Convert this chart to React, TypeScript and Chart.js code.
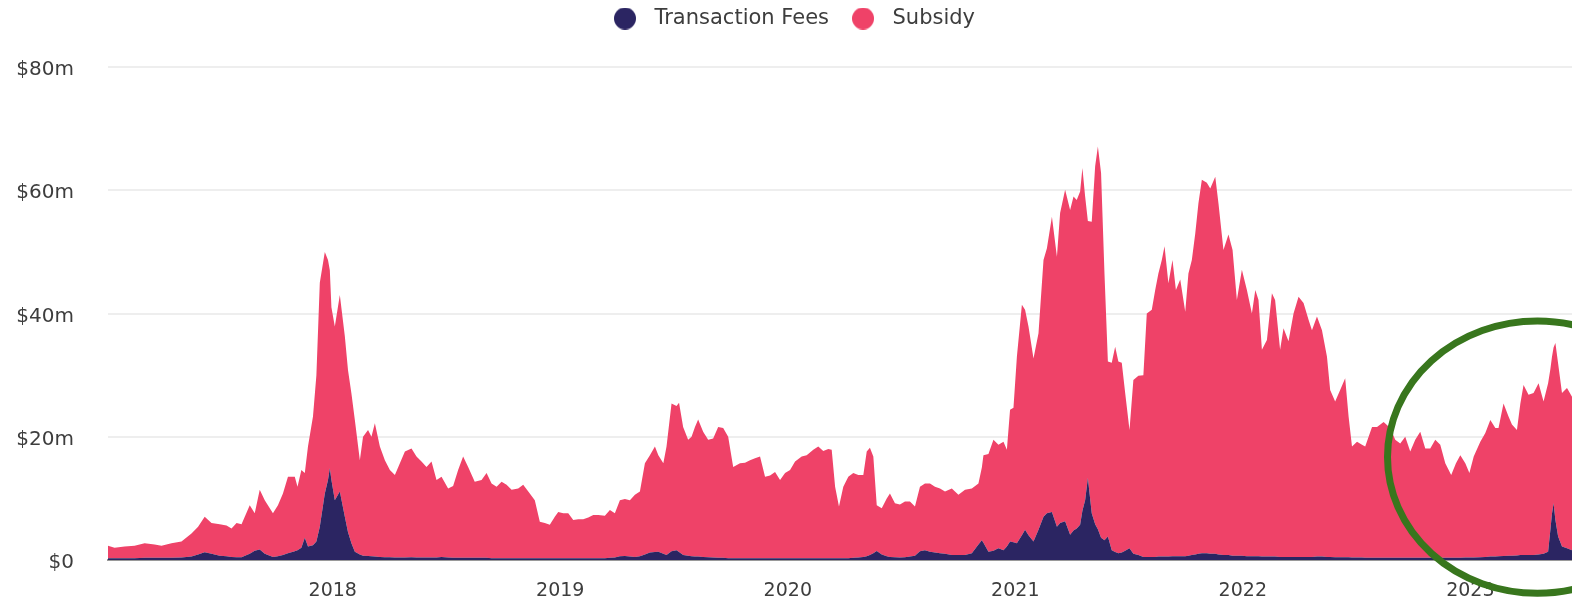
import React, { useEffect, useRef } from 'react';
import { Chart, registerables } from 'chart.js';

Chart.register(...registerables);

// Fractional-year positions of the samples
const YEARS = [
  2017.012, 2017.041, 2017.085, 2017.129, 2017.173, 2017.217, 2017.247, 2017.291, 2017.335, 2017.379,
  2017.408, 2017.437, 2017.467, 2017.503, 2017.533, 2017.555, 2017.577, 2017.599, 2017.635, 2017.657,
  2017.679, 2017.701, 2017.737, 2017.759, 2017.781, 2017.803, 2017.833, 2017.845, 2017.862, 2017.877,
  2017.891, 2017.913, 2017.928, 2017.943, 2017.965, 2017.979, 2017.987, 2017.994, 2018.009, 2018.031,
  2018.053, 2018.067, 2018.082, 2018.097, 2018.119, 2018.133, 2018.155, 2018.170, 2018.185, 2018.207,
  2018.229, 2018.251, 2018.273, 2018.295, 2018.317, 2018.346, 2018.368, 2018.390, 2018.412, 2018.434,
  2018.456, 2018.478, 2018.507, 2018.529, 2018.551, 2018.573, 2018.595, 2018.624, 2018.654, 2018.676,
  2018.698, 2018.720, 2018.742, 2018.764, 2018.786, 2018.815, 2018.837, 2018.866, 2018.888, 2018.910,
  2018.932, 2018.954, 2018.976, 2018.991, 2019.013, 2019.035, 2019.057, 2019.079, 2019.101, 2019.123,
  2019.145, 2019.167, 2019.196, 2019.218, 2019.240, 2019.262, 2019.284, 2019.306, 2019.328, 2019.350,
  2019.372, 2019.394, 2019.416, 2019.431, 2019.453, 2019.467, 2019.489, 2019.511, 2019.522, 2019.540,
  2019.562, 2019.577, 2019.592, 2019.606, 2019.628, 2019.650, 2019.672, 2019.694, 2019.716, 2019.738,
  2019.760, 2019.790, 2019.812, 2019.834, 2019.856, 2019.878, 2019.900, 2019.922, 2019.944, 2019.966,
  2019.988, 2020.010, 2020.032, 2020.061, 2020.083, 2020.112, 2020.134, 2020.156, 2020.178, 2020.193,
  2020.208, 2020.225, 2020.244, 2020.266, 2020.288, 2020.310, 2020.332, 2020.347, 2020.361, 2020.376,
  2020.391, 2020.413, 2020.435, 2020.449, 2020.471, 2020.493, 2020.515, 2020.537, 2020.559, 2020.581,
  2020.603, 2020.625, 2020.647, 2020.669, 2020.691, 2020.721, 2020.750, 2020.779, 2020.809, 2020.838,
  2020.853, 2020.860, 2020.882, 2020.904, 2020.926, 2020.948, 2020.963, 2020.977, 2020.992, 2021.007,
  2021.029, 2021.043, 2021.058, 2021.080, 2021.102, 2021.124, 2021.139, 2021.161, 2021.183, 2021.197,
  2021.219, 2021.241, 2021.256, 2021.270, 2021.285, 2021.295, 2021.307, 2021.319, 2021.336, 2021.351,
  2021.363, 2021.377, 2021.392, 2021.407, 2021.424, 2021.439, 2021.453, 2021.468, 2021.483, 2021.502,
  2021.519, 2021.541, 2021.563, 2021.578, 2021.600, 2021.615, 2021.629, 2021.644, 2021.656, 2021.673,
  2021.691, 2021.706, 2021.725, 2021.747, 2021.761, 2021.776, 2021.791, 2021.805, 2021.820, 2021.842,
  2021.857, 2021.879, 2021.893, 2021.915, 2021.937, 2021.955, 2021.974, 2021.996, 2022.018, 2022.040,
  2022.055, 2022.069, 2022.084, 2022.106, 2022.128, 2022.142, 2022.164, 2022.179, 2022.201, 2022.223,
  2022.245, 2022.267, 2022.289, 2022.304, 2022.326, 2022.348, 2022.370, 2022.384, 2022.406, 2022.428,
  2022.450, 2022.465, 2022.480, 2022.502, 2022.524, 2022.538, 2022.568, 2022.590, 2022.619, 2022.648,
  2022.670, 2022.692, 2022.714, 2022.736, 2022.758, 2022.780, 2022.802, 2022.824, 2022.846, 2022.868,
  2022.890, 2022.916, 2022.937, 2022.956, 2022.978, 2022.996, 2023.015, 2023.044, 2023.066, 2023.088,
  2023.110, 2023.124, 2023.146, 2023.168, 2023.183, 2023.205, 2023.220, 2023.234, 2023.256, 2023.278,
  2023.300, 2023.322, 2023.342, 2023.352, 2023.359, 2023.366, 2023.374, 2023.386, 2023.403, 2023.425,
  2023.447,
];

// Transaction fees, $m
const FEES = [
  0.3, 0.3, 0.3, 0.3, 0.35, 0.35, 0.35, 0.35, 0.4, 0.55,
  0.9, 1.25, 1.0, 0.7, 0.6, 0.5, 0.45, 0.45, 1.0, 1.5,
  1.7, 1.0, 0.5, 0.6, 0.8, 1.1, 1.4, 1.6, 2.0, 3.6,
  2.2, 2.4, 3.0, 5.4, 10.8, 13.0, 14.9, 13.0, 9.7, 11.1,
  7.0, 4.5, 2.7, 1.35, 0.9, 0.7, 0.65, 0.6, 0.55, 0.5,
  0.45, 0.45, 0.4, 0.4, 0.4, 0.45, 0.4, 0.4, 0.4, 0.4,
  0.4, 0.5, 0.4, 0.35, 0.35, 0.35, 0.35, 0.35, 0.35, 0.35,
  0.3, 0.3, 0.3, 0.3, 0.3, 0.3, 0.3, 0.3, 0.3, 0.3,
  0.3, 0.3, 0.3, 0.3, 0.3, 0.3, 0.3, 0.3, 0.3, 0.3,
  0.3, 0.3, 0.3, 0.35, 0.4, 0.6, 0.65, 0.55, 0.5, 0.6,
  0.9, 1.2, 1.3, 1.35, 1.0, 0.8, 1.4, 1.6, 1.3, 0.8,
  0.7, 0.6, 0.55, 0.55, 0.5, 0.45, 0.4, 0.35, 0.35, 0.3,
  0.3, 0.3, 0.3, 0.3, 0.3, 0.3, 0.3, 0.3, 0.3, 0.3,
  0.3, 0.3, 0.3, 0.3, 0.3, 0.3, 0.3, 0.3, 0.3, 0.3,
  0.3, 0.3, 0.3, 0.3, 0.35, 0.4, 0.5, 0.6, 0.8, 1.1,
  1.45, 0.9, 0.6, 0.5, 0.45, 0.4, 0.45, 0.55, 0.7, 1.4,
  1.6, 1.35, 1.2, 1.1, 1.0, 0.8, 0.8, 0.8, 1.1, 2.5,
  3.2, 2.8, 1.35, 1.5, 1.9, 1.6, 2.2, 3.0, 2.9, 2.7,
  4.0, 4.9, 4.0, 3.0, 4.9, 7.0, 7.6, 7.8, 5.4, 6.0,
  6.3, 4.1, 4.8, 5.1, 5.7, 8.0, 9.7, 13.3, 7.6, 5.8,
  5.0, 3.6, 3.2, 3.8, 1.6, 1.3, 1.1, 1.2, 1.5, 1.9,
  1.0, 0.8, 0.5, 0.5, 0.5, 0.5, 0.55, 0.55, 0.55, 0.55,
  0.6, 0.6, 0.6, 0.6, 0.7, 0.8, 0.9, 1.0, 1.1, 1.1,
  1.0, 1.0, 0.9, 0.8, 0.8, 0.7, 0.7, 0.7, 0.6, 0.6,
  0.6, 0.6, 0.55, 0.55, 0.55, 0.55, 0.5, 0.5, 0.5, 0.5,
  0.5, 0.5, 0.5, 0.5, 0.55, 0.55, 0.5, 0.5, 0.45, 0.45,
  0.45, 0.45, 0.4, 0.4, 0.4, 0.35, 0.35, 0.35, 0.35, 0.35,
  0.35, 0.35, 0.35, 0.35, 0.35, 0.35, 0.35, 0.35, 0.35, 0.35,
  0.35, 0.35, 0.35, 0.35, 0.4, 0.4, 0.4, 0.45, 0.5, 0.55,
  0.55, 0.6, 0.65, 0.7, 0.7, 0.75, 0.8, 0.8, 0.8, 0.8,
  0.9, 1.0, 1.35, 4.9, 7.5, 9.2, 6.5, 3.8, 2.2, 1.9,
  1.6,
];

// Block subsidy, $m
const SUBSIDY = [
  2.0, 1.7, 1.9, 2.0, 2.35, 2.15, 1.95, 2.35, 2.6, 3.75,
  4.5, 5.75, 5.0, 5.1, 5.0, 4.6, 5.55, 5.35, 7.9, 6.1,
  9.7, 8.7, 7.1, 8.3, 10.0, 12.4, 12.1, 10.3, 12.6, 10.5,
  16.2, 20.9, 27.0, 39.6, 39.2, 35.7, 32.1, 28.0, 28.2, 31.9,
  29.3, 26.3, 24.3, 21.35, 15.3, 19.3, 20.45, 19.4, 21.65, 17.9,
  15.75, 14.15, 13.4, 15.3, 17.2, 17.65, 16.4, 15.6, 14.7, 15.6,
  12.6, 13.0, 11.2, 11.65, 14.25, 16.45, 14.75, 12.35, 12.65, 13.75,
  12.1, 11.6, 12.4, 11.9, 11.1, 11.3, 11.9, 10.5, 9.4, 5.9,
  5.7, 5.4, 6.7, 7.5, 7.3, 7.3, 6.2, 6.3, 6.3, 6.6,
  7.0, 7.0, 6.9, 7.75, 7.2, 9.1, 9.25, 9.15, 10.1, 10.5,
  14.8, 15.8, 17.1, 15.65, 14.7, 17.6, 24.0, 23.4, 24.2, 20.8,
  18.8, 19.4, 21.05, 22.25, 20.3, 19.05, 19.3, 21.25, 21.05, 19.7,
  14.8, 15.4, 15.5, 15.9, 16.2, 16.5, 13.2, 13.4, 14.0, 12.7,
  13.8, 14.3, 15.7, 16.5, 16.7, 17.6, 18.1, 17.4, 17.7, 17.6,
  11.6, 8.4, 11.6, 13.2, 13.75, 13.4, 13.3, 17.0, 17.4, 15.7,
  7.45, 7.5, 9.4, 10.3, 8.75, 8.6, 9.05, 8.95, 8.0, 10.5,
  10.8, 11.05, 10.7, 10.5, 10.1, 10.8, 9.8, 10.6, 10.5, 9.9,
  11.8, 14.2, 15.85, 18.0, 16.8, 17.6, 15.7, 21.4, 21.8, 30.3,
  37.4, 35.7, 33.9, 29.7, 31.9, 41.7, 43.0, 47.9, 43.8, 50.3,
  53.8, 52.7, 54.2, 53.3, 54.1, 55.6, 49.3, 41.7, 47.3, 58.1,
  62.1, 59.2, 43.3, 28.4, 30.4, 33.3, 31.1, 30.8, 25.6, 19.2,
  28.2, 29.1, 29.5, 39.5, 40.1, 43.3, 45.95, 48.15, 50.35, 44.35,
  48.1, 43.2, 44.9, 39.7, 45.8, 47.9, 52.1, 56.9, 60.6, 60.1,
  59.3, 61.2, 57.0, 49.5, 52.0, 49.6, 41.5, 46.4, 43.2, 39.4,
  43.2, 41.6, 33.55, 35.15, 42.75, 41.65, 33.6, 37.1, 35.0, 39.5,
  42.2, 41.2, 38.5, 36.8, 38.95, 36.75, 32.5, 27.1, 25.25, 27.15,
  29.05, 22.85, 18.0, 18.8, 18.3, 18.05, 21.25, 21.25, 22.05, 21.05,
  19.15, 18.55, 19.65, 17.25, 19.15, 20.45, 17.75, 17.75, 19.15, 18.35,
  15.35, 13.45, 15.35, 16.65, 15.3, 13.7, 16.4, 18.75, 20.1, 22.15,
  20.85, 20.8, 24.75, 22.6, 21.3, 20.35, 24.6, 27.6, 26.0, 26.3,
  27.8, 24.7, 27.35, 26.1, 25.5, 25.3, 28.7, 28.1, 24.9, 26.0,
  24.9,
];

const SERIES_NAMES = ['Transaction Fees', 'Subsidy'];
const SERIES_COLORS = ['#2b2562', '#ef4268'];
const YEAR_TICKS = [2018, 2019, 2020, 2021, 2022, 2023];
const VALUE_TICKS = [0, 20, 40, 60, 80];

// Highlight ellipse (in data units)
const HIGHLIGHT = { year: 2023.295, value: 16.7, yearRadius: 0.659, valueRadius: 22.1 };

const FONT = '"DejaVu Sans", sans-serif';
const TEXT_COLOR = '#3d3d3d';

function makeDot(color: string): HTMLCanvasElement {
  const c = document.createElement('canvas');
  c.width = 22;
  c.height = 22;
  const g = c.getContext('2d')!;
  g.fillStyle = color;
  g.beginPath();
  g.arc(11, 11, 11, 0, Math.PI * 2);
  g.fill();
  return c;
}

export default function App() {
  const canvasRef = useRef<HTMLCanvasElement | null>(null);

  useEffect(() => {
    if (!canvasRef.current) return;
    const dots = SERIES_COLORS.map(makeDot);

    const legendSpacing = {
      id: 'legendSpacing',
      beforeInit(chart: any) {
        const orig = chart.legend.fit;
        chart.legend.fit = function fit() {
          orig.bind(chart.legend)();
          this.height += 28;
        };
      },
      afterLayout(chart: any) {
        if (chart.legend) {
          chart.legend.left += 4.5;
          chart.legend.right += 4.5;
        }
      },
    };

    const highlight = {
      id: 'highlight',
      afterDraw(chart: any) {
        const { ctx, scales } = chart;
        const xs = scales.x;
        const ys = scales.y;
        const cx = xs.getPixelForValue(HIGHLIGHT.year);
        const cy = ys.getPixelForValue(HIGHLIGHT.value);
        const rx = xs.getPixelForValue(HIGHLIGHT.year + HIGHLIGHT.yearRadius) - cx;
        const ry = cy - ys.getPixelForValue(HIGHLIGHT.value + HIGHLIGHT.valueRadius);
        ctx.save();
        ctx.strokeStyle = '#38761d';
        ctx.lineWidth = 7;
        ctx.beginPath();
        ctx.ellipse(cx, cy, rx, ry, 0, 0, Math.PI * 2);
        ctx.stroke();
        ctx.restore();
      },
    };

    const chart = new Chart(canvasRef.current, {
      type: 'line',
      data: {
        datasets: [
          {
            label: SERIES_NAMES[0],
            data: YEARS.map((x, i) => ({ x, y: FEES[i] })),
            backgroundColor: SERIES_COLORS[0],
            borderColor: SERIES_COLORS[0],
            fill: 'origin',
          },
          {
            label: SERIES_NAMES[1],
            data: YEARS.map((x, i) => ({ x, y: SUBSIDY[i] })),
            backgroundColor: SERIES_COLORS[1],
            borderColor: SERIES_COLORS[1],
            fill: '-1',
          },
        ],
      },
      options: {
        responsive: false,
        animation: false,
        devicePixelRatio: 1,
        events: [],
        layout: { padding: { left: 0, right: 0, top: -7, bottom: 0 } },
        elements: {
          line: { tension: 0, borderWidth: 0 },
          point: { radius: 0 },
        },
        scales: {
          x: {
            type: 'linear',
            min: YEARS[0],
            max: YEARS[YEARS.length - 1],
            afterBuildTicks: (scale: any) => {
              scale.ticks = YEAR_TICKS.map((v) => ({ value: v }));
            },
            afterFit: (scale: any) => {
              scale.height = 44;
            },
            ticks: {
              callback: (v: any) => String(v),
              font: { family: FONT, size: 19 },
              color: TEXT_COLOR,
              padding: 20,
              maxRotation: 0,
              autoSkip: false,
            },
            grid: { display: false, drawTicks: false },
            border: { display: true, color: '#9a9a9a', width: 2 },
          },
          y: {
            stacked: true,
            min: 0,
            max: 80,
            afterBuildTicks: (scale: any) => {
              scale.ticks = VALUE_TICKS.map((v) => ({ value: v }));
            },
            afterFit: (scale: any) => {
              scale.width = 108;
            },
            ticks: {
              callback: (v: any) => (v === 0 ? '$0' : `$${v}m`),
              font: { family: FONT, size: 20 },
              color: TEXT_COLOR,
              padding: 34,
              labelOffset: 3,
            },
            grid: { color: '#eeeeee', lineWidth: 2, drawTicks: false },
            border: { display: false },
          },
        },
        plugins: {
          tooltip: { enabled: false },
          legend: {
            position: 'top',
            align: 'center',
            labels: {
              usePointStyle: true,
              pointStyleWidth: 38,
              boxHeight: 19,
              padding: 15,
              font: { family: FONT, size: 21 },
              color: TEXT_COLOR,
              generateLabels: (ch: any) =>
                (Chart.defaults.plugins.legend.labels as any)
                  .generateLabels(ch)
                  .map((l: any, i: number) => ({ ...l, pointStyle: dots[i] })),
            },
          },
        },
      } as any,
      plugins: [legendSpacing, highlight],
    });

    return () => chart.destroy();
  }, []);

  return (
    <div style={{ position: 'absolute', left: 0, top: 0, width: 1572, height: 606 }}>
      <canvas ref={canvasRef} width={1572} height={606} style={{ display: 'block' }} />
    </div>
  );
}
